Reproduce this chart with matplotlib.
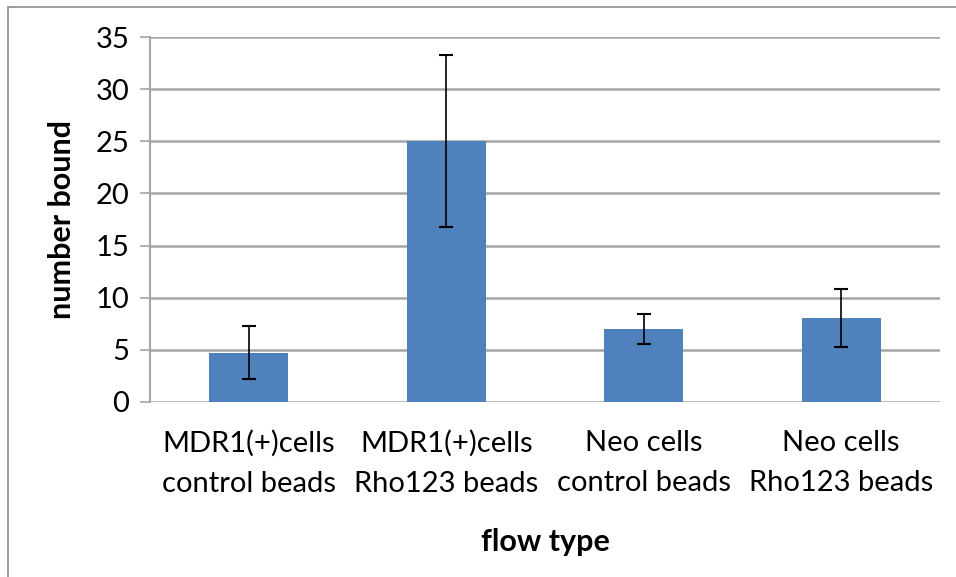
import matplotlib
matplotlib.use("Agg")
import matplotlib.pyplot as plt
from matplotlib.patches import Rectangle

categories = ["MDR1(+)cells\ncontrol beads", "MDR1(+)cells\nRho123 beads",
              "Neo cells\ncontrol beads", "Neo cells\nRho123 beads"]
values = [4.74, 25.0, 7.03, 8.04]
errors = [2.55, 8.25, 1.45, 2.8]
yticks = [0, 5, 10, 15, 20, 25, 30, 35]

plt.rcParams["font.family"] = ["Lato", "DejaVu Sans"]

W, H = 956, 577
fig = plt.figure(figsize=(W / 100, H / 100), dpi=100)
ax = fig.add_axes([150 / W, 1 - 402 / H, 790 / W, 365 / H])

# outer chart frame (right and bottom edges cut off)
fig.patches.append(Rectangle((8 / W, -0.1), 1.2, 1 - 7 / H + 0.1, transform=fig.transFigure,
                             fill=False, edgecolor="#8c8c8c", linewidth=1.2))

x = range(len(categories))
ax.bar(x, values, width=0.4, color="#4f81bd", zorder=3,
       yerr=errors, error_kw=dict(ecolor="black", elinewidth=1.2, capsize=5, capthick=1.5, zorder=4))

ax.set_xlim(-0.5, len(categories) - 0.5)
ax.set_ylim(0, 35)
ax.set_yticks(yticks)
ax.set_xticks(list(x))
ax.set_xticklabels(categories, fontsize=21, linespacing=1.7)
ax.tick_params(axis="y", labelsize=21, length=7, width=1.2, color="#a6a6a6", pad=8)
ax.tick_params(axis="x", length=0, pad=20)
ax.grid(axis="y", color="#a6a6a6", linewidth=1.8, zorder=0)

for side in ["top", "right", "bottom"]:
    ax.spines[side].set_visible(False)
ax.spines["left"].set_color("#a6a6a6")
ax.spines["left"].set_linewidth(1.5)

ax.set_ylabel("number bound", fontsize=22, fontweight="bold", labelpad=14)
ax.set_xlabel("flow type", fontsize=22, fontweight="bold", labelpad=22)

fig.savefig("out.png", dpi=100)
